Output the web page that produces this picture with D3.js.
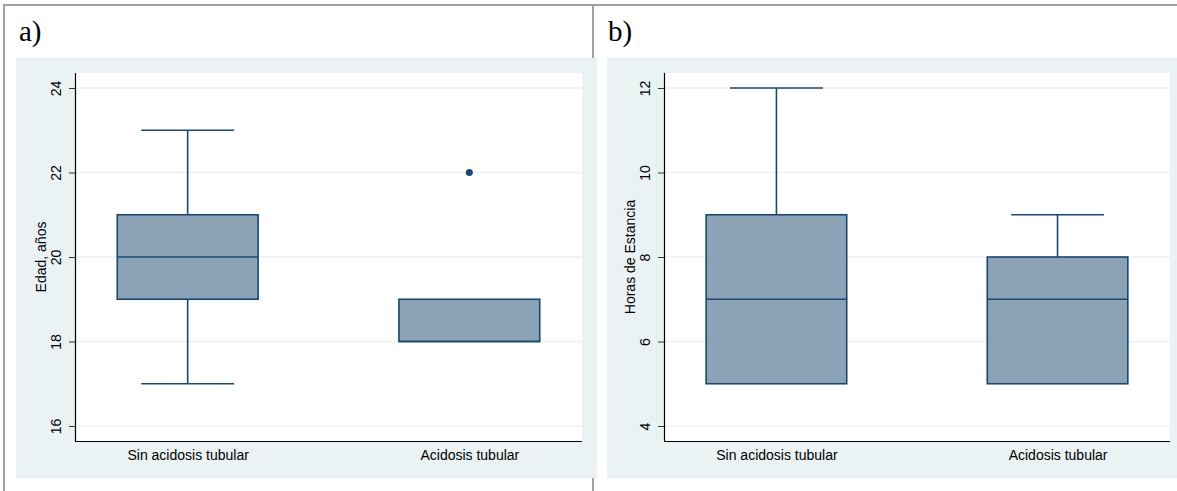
<!DOCTYPE html>
<html>
<head>
<meta charset="utf-8">
<script src="https://cdn.jsdelivr.net/npm/d3@7"></script>
<style>
  html, body { margin: 0; padding: 0; background: #fff; }
  svg { display: block; }
</style>
</head>
<body>
<svg id="chart" width="1177" height="491"></svg>
<script>
// Groups shown on both panels
const categories = ["Sin acidosis tubular", "Acidosis tubular"];

// Panel a) — age in years: box statistics per group
const edadLow     = [17, 18];
const edadQ1      = [19, 18];
const edadMedian  = [20, 18];
const edadQ3      = [21, 19];
const edadHigh    = [23, 19];
const edadOutliers = [[], [22]];
const edadTicks   = [16, 18, 20, 22, 24];

// Panel b) — hours of stay: box statistics per group
const horasLow     = [5, 5];
const horasQ1      = [5, 5];
const horasMedian  = [7, 7];
const horasQ3      = [9, 8];
const horasHigh    = [12, 9];
const horasOutliers = [[], []];
const horasTicks   = [4, 6, 8, 10, 12];

const panels = [
  { tag: "a)", title: "Edad, años", low: edadLow, q1: edadQ1, med: edadMedian,
    q3: edadQ3, high: edadHigh, out: edadOutliers, ticks: edadTicks, domain: [16, 24],
    cellX: 4, bgX: 16, bgW: 581, plotX: 75, plotW: 507 },
  { tag: "b)", title: "Horas de Estancia", low: horasLow, q1: horasQ1, med: horasMedian,
    q3: horasQ3, high: horasHigh, out: horasOutliers, ticks: horasTicks, domain: [4, 12],
    cellX: 593, bgX: 607, bgW: 590, plotX: 664, plotW: 506 }
];

const BG = "#eaf2f3";
const NAVY = "#1a476f";
const FILL = "#8ca3b7";
const svg = d3.select("#chart");

// Table-like frame around the two figures
const frame = svg.append("g").attr("stroke", "#a0a0a0").attr("stroke-width", 2);
frame.append("line").attr("x1", 3).attr("x2", 1177).attr("y1", 5).attr("y2", 5);
frame.append("line").attr("x1", 4).attr("x2", 4).attr("y1", 5).attr("y2", 491);
frame.append("line").attr("x1", 593).attr("x2", 593).attr("y1", 5).attr("y2", 491);

const plotTop = 73, plotBottom = 441, bgTop = 58, bgBottom = 478;

panels.forEach(p => {
  const g = svg.append("g");

  g.append("text")
    .attr("x", p.cellX + 15).attr("y", 41)
    .attr("font-family", "'Liberation Serif', serif")
    .attr("font-size", 29)
    .attr("fill", "#000")
    .text(p.tag);

  g.append("rect")
    .attr("x", p.bgX).attr("y", bgTop)
    .attr("width", p.bgW).attr("height", bgBottom - bgTop)
    .attr("fill", BG);

  g.append("rect")
    .attr("x", p.plotX).attr("y", plotTop)
    .attr("width", p.plotW).attr("height", plotBottom - plotTop)
    .attr("fill", "#fff");

  const x = d3.scalePoint()
    .domain(categories)
    .range([p.plotX, p.plotX + p.plotW])
    .padding(0.4);

  const y = d3.scaleLinear()
    .domain(p.domain)
    .range([426, 88]);

  const step = x.step();
  const boxW = step * 0.5;
  const capW = step * 0.33;

  // Gridlines
  g.append("g").selectAll("line")
    .data(p.ticks)
    .join("line")
    .attr("x1", p.plotX).attr("x2", p.plotX + p.plotW)
    .attr("y1", d => y(d)).attr("y2", d => y(d))
    .attr("stroke", BG).attr("stroke-width", 1.5);

  // Y axis
  const yAxis = g.append("g")
    .attr("transform", `translate(${p.plotX},0)`)
    .call(d3.axisLeft(y).tickValues(p.ticks).tickSize(6).tickPadding(5).tickFormat(d3.format("d")));
  yAxis.select(".domain").remove();
  yAxis.selectAll(".tick line").attr("stroke", "#333");
  yAxis.selectAll(".tick text")
    .attr("font-family", "'Liberation Sans', Arial, sans-serif")
    .attr("font-size", 14)
    .attr("fill", "#000")
    .attr("text-anchor", "middle")
    .attr("transform", "rotate(-90)")
    .attr("x", 0).attr("dy", 0)
    .attr("y", -14);

  g.append("line")
    .attr("x1", p.plotX + 0.5).attr("x2", p.plotX + 0.5)
    .attr("y1", plotTop).attr("y2", plotBottom)
    .attr("stroke", "#000").attr("stroke-width", 1.2);

  // X axis
  const xAxis = g.append("g")
    .attr("transform", `translate(0,${plotBottom})`)
    .call(d3.axisBottom(x).tickSize(0).tickPadding(9));
  xAxis.select(".domain").remove();
  xAxis.selectAll(".tick text")
    .attr("font-family", "'Liberation Sans', Arial, sans-serif")
    .attr("font-size", 14)
    .attr("fill", "#000");

  g.append("line")
    .attr("x1", p.plotX).attr("x2", p.plotX + p.plotW)
    .attr("y1", plotBottom + 0.5).attr("y2", plotBottom + 0.5)
    .attr("stroke", "#000").attr("stroke-width", 1.2);

  // Axis title
  g.append("text")
    .attr("transform", `translate(${p.plotX - 29},${(plotTop + plotBottom) / 2}) rotate(-90)`)
    .attr("text-anchor", "middle")
    .attr("font-family", "'Liberation Sans', Arial, sans-serif")
    .attr("font-size", 14)
    .attr("fill", "#000")
    .text(p.title);

  // Boxes
  const rows = categories.map((c, i) => ({
    c, low: p.low[i], q1: p.q1[i], med: p.med[i], q3: p.q3[i], high: p.high[i], out: p.out[i]
  }));

  const bx = g.append("g").selectAll("g").data(rows).join("g");

  // whiskers
  bx.filter(d => d.high > d.q3).append("line")
    .attr("x1", d => x(d.c)).attr("x2", d => x(d.c))
    .attr("y1", d => y(d.q3)).attr("y2", d => y(d.high))
    .attr("stroke", NAVY).attr("stroke-width", 1.6);
  bx.filter(d => d.high > d.q3).append("line")
    .attr("x1", d => x(d.c) - capW / 2).attr("x2", d => x(d.c) + capW / 2)
    .attr("y1", d => y(d.high)).attr("y2", d => y(d.high))
    .attr("stroke", NAVY).attr("stroke-width", 1.6);
  bx.filter(d => d.low < d.q1).append("line")
    .attr("x1", d => x(d.c)).attr("x2", d => x(d.c))
    .attr("y1", d => y(d.q1)).attr("y2", d => y(d.low))
    .attr("stroke", NAVY).attr("stroke-width", 1.6);
  bx.filter(d => d.low < d.q1).append("line")
    .attr("x1", d => x(d.c) - capW / 2).attr("x2", d => x(d.c) + capW / 2)
    .attr("y1", d => y(d.low)).attr("y2", d => y(d.low))
    .attr("stroke", NAVY).attr("stroke-width", 1.6);

  bx.append("rect")
    .attr("x", d => x(d.c) - boxW / 2)
    .attr("y", d => y(d.q3))
    .attr("width", boxW)
    .attr("height", d => y(d.q1) - y(d.q3))
    .attr("fill", FILL)
    .attr("stroke", NAVY).attr("stroke-width", 1.6);

  bx.append("line")
    .attr("x1", d => x(d.c) - boxW / 2).attr("x2", d => x(d.c) + boxW / 2)
    .attr("y1", d => y(d.med)).attr("y2", d => y(d.med))
    .attr("stroke", NAVY).attr("stroke-width", 1.6);

  bx.selectAll("circle")
    .data(d => d.out.map(v => ({ c: d.c, v })))
    .join("circle")
    .attr("cx", d => x(d.c)).attr("cy", d => y(d.v))
    .attr("r", 3.5)
    .attr("fill", NAVY);
});
</script>
</body>
</html>
